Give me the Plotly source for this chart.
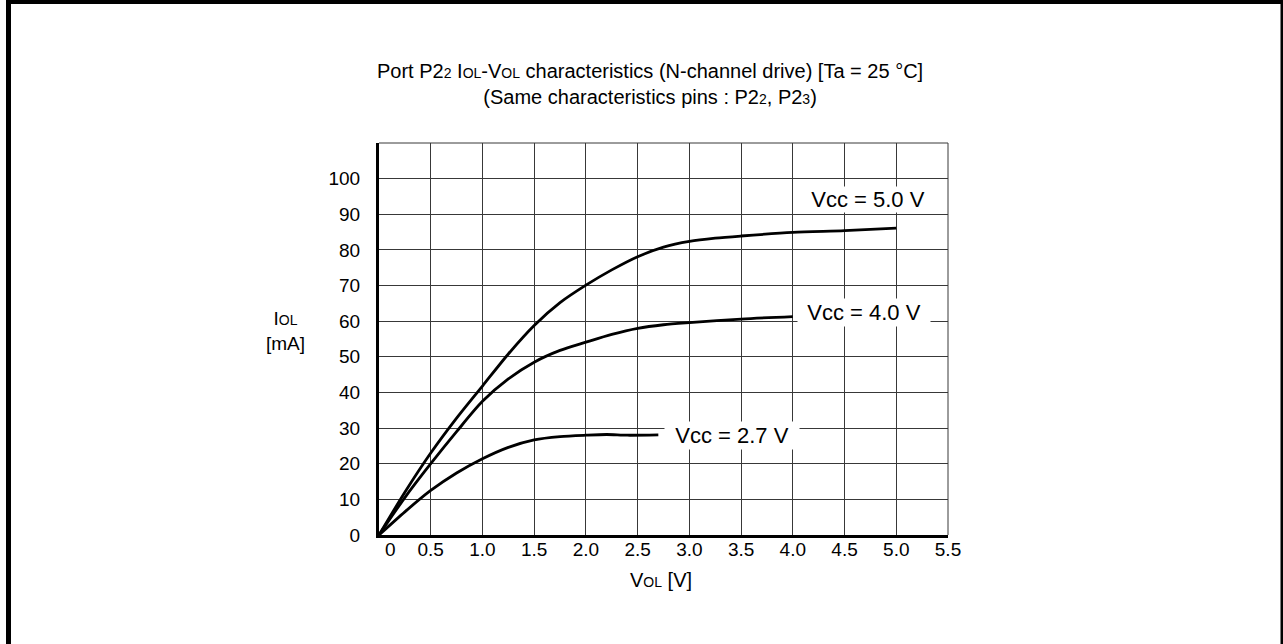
import plotly.graph_objects as go

# ---- data ----
v50_x = [0, 0.25, 0.5, 0.75, 1.0, 1.25, 1.5, 1.75, 2.0, 2.25, 2.5, 2.75, 3.0, 3.25, 3.5, 4.0, 4.5, 5.0]
v50_y = [0, 12.0, 23.0, 32.8, 41.8, 50.8, 58.8, 65.2, 70.1, 74.4, 78.1, 80.8, 82.4, 83.3, 83.9, 84.9, 85.4, 86.1]

v40_x = [0, 0.25, 0.5, 0.75, 1.0, 1.25, 1.5, 1.75, 2.0, 2.25, 2.5, 2.75, 3.0, 3.5, 4.0]
v40_y = [0, 10.5, 20.0, 29.0, 37.5, 43.8, 48.5, 51.8, 54.1, 56.3, 58.0, 59.0, 59.6, 60.6, 61.3]

v27_x = [0, 0.25, 0.5, 0.75, 1.0, 1.25, 1.5, 1.75, 2.0, 2.2, 2.4, 2.7]
v27_y = [0, 6.5, 12.5, 17.4, 21.4, 24.6, 26.7, 27.6, 28.0, 28.2, 28.0, 28.1]

series_names = ["Vcc = 5.0 V", "Vcc = 4.0 V", "Vcc = 2.7 V"]
x_ticks = [0.5, 1.0, 1.5, 2.0, 2.5, 3.0, 3.5, 4.0, 4.5, 5.0, 5.5]
x_tick_text = ["0.5", "1.0", "1.5", "2.0", "2.5", "3.0", "3.5", "4.0", "4.5", "5.0", "5.5"]
y_ticks = [0, 10, 20, 30, 40, 50, 60, 70, 80, 90, 100]

FONT = "Liberation Sans, Arial, sans-serif"
SMALL = '<span style="font-size:14px">'

fig = go.Figure()
for xs, ys, name in [(v50_x, v50_y, series_names[0]),
                     (v40_x, v40_y, series_names[1]),
                     (v27_x, v27_y, series_names[2])]:
    fig.add_trace(go.Scatter(x=xs, y=ys, mode="lines", name=name,
                             line=dict(color="black", width=2.8, shape="spline", smoothing=0.8),
                             showlegend=False, hoverinfo="skip"))

W, H = 1283, 644
L, R, T, B = 379, 335, 143, 109
pw, ph = W - L - R, H - T - B

def px(x):
    return (x - L) / pw

def py(y):
    return (H - B - y) / ph

fig.update_layout(
    width=W, height=H,
    margin=dict(l=L, r=R, t=T, b=B, pad=0),
    paper_bgcolor="white", plot_bgcolor="white",
    font=dict(family=FONT, size=19, color="black"),
    xaxis=dict(range=[0, 5.5], tickvals=x_ticks, ticktext=x_tick_text,
               showgrid=True, gridcolor="#383838", gridwidth=1,
               showline=True, linecolor="black", linewidth=3, mirror=False,
               zeroline=False, ticks="", ticklen=0, ticklabelstandoff=-5,
               tickfont=dict(size=19, family=FONT, color="black")),
    yaxis=dict(range=[0, 110], tickvals=y_ticks,
               showgrid=True, gridcolor="#383838", gridwidth=1,
               showline=True, linecolor="black", linewidth=3,
               zeroline=False, ticks="", ticklen=0, ticklabelstandoff=12,
               tickfont=dict(size=19, family=FONT, color="black")),
)

shapes = []
# top and right border of the plot box
shapes.append(dict(type="line", xref="paper", yref="paper", x0=0, x1=1, y0=1, y1=1,
                   line=dict(color="#383838", width=1)))
shapes.append(dict(type="line", xref="paper", yref="paper", x0=1, x1=1, y0=0, y1=1,
                   line=dict(color="#383838", width=1)))
# outer frame
shapes.append(dict(type="line", xref="paper", yref="paper", x0=px(8.5), x1=px(8.5),
                   y0=py(0), y1=py(H + 20), line=dict(color="black", width=5)))
shapes.append(dict(type="line", xref="paper", yref="paper", x0=px(6), x1=px(1283),
                   y0=py(2), y1=py(2), line=dict(color="black", width=4)))
shapes.append(dict(type="line", xref="paper", yref="paper", x0=px(1282), x1=px(1282),
                   y0=py(0), y1=py(H + 20), line=dict(color="black", width=3)))
fig.update_layout(shapes=shapes)

ann = []
ann.append(dict(xref="paper", yref="paper", x=px(650), y=py(84), showarrow=False,
                text="Port P2" + SMALL + "2</span> I" + SMALL + "OL</span>-V" + SMALL
                     + "OL</span> characteristics (N-channel drive) [Ta = 25 °C]<br>"
                     + "(Same characteristics pins : P2" + SMALL + "2</span>, P2" + SMALL + "3</span>)",
                align="center", font=dict(size=20), xanchor="center", yanchor="middle"))
ann.append(dict(xref="paper", yref="paper", x=px(285), y=py(331), showarrow=False,
                text="I" + SMALL + "OL</span><br>[mA]", align="center",
                font=dict(size=19), xanchor="center", yanchor="middle"))
ann.append(dict(xref="paper", yref="paper", x=px(661), y=py(580), showarrow=False,
                text="V" + SMALL + "OL</span> [V]",
                font=dict(size=20), xanchor="center", yanchor="middle"))
# "0" x tick label, shifted off the y axis
ann.append(dict(xref="paper", yref="paper", x=px(390), y=py(549), showarrow=False,
                text="0", font=dict(size=19), xanchor="center", yanchor="middle"))
# curve labels with white boxes
ann.append(dict(x=4.73, y=(535 - 199) / 3.5636, xref="x", yref="y", showarrow=False,
                text=series_names[0], bgcolor="white", width=136, height=25,
                borderpad=0, font=dict(size=22), xanchor="center", yanchor="middle"))
ann.append(dict(x=4.69, y=(535 - 312) / 3.5636, xref="x", yref="y", showarrow=False,
                text=series_names[1], bgcolor="white", width=132, height=27,
                borderpad=0, font=dict(size=22), xanchor="center", yanchor="middle"))
ann.append(dict(x=3.41, y=(535 - 435) / 3.5636, xref="x", yref="y", showarrow=False,
                text=series_names[2], bgcolor="white", width=134, height=27,
                borderpad=0, font=dict(size=22), xanchor="center", yanchor="middle"))
fig.update_layout(annotations=ann)

fig.write_html("out.html", config={"displayModeBar": False},
               post_script="document.body.style.margin='0px';")
